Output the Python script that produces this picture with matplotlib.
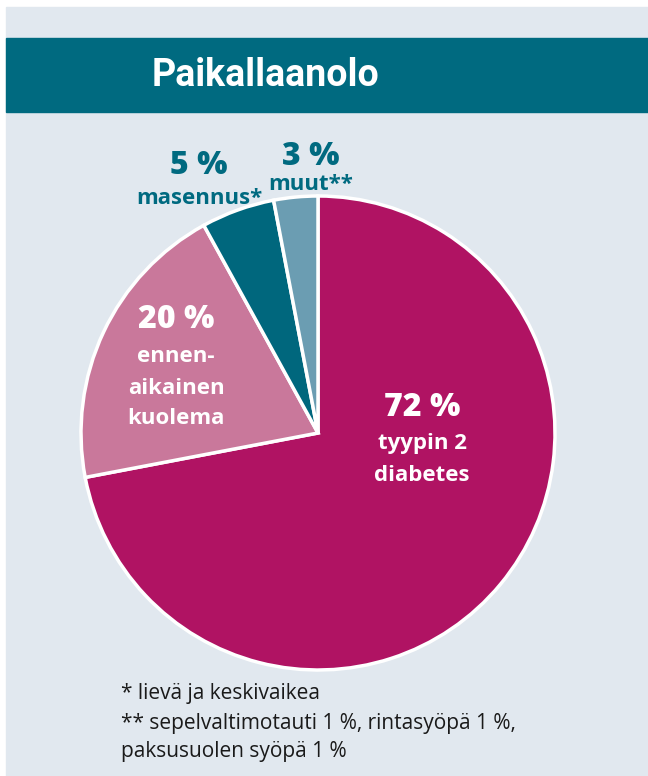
import matplotlib
matplotlib.use('Agg')
import matplotlib.pyplot as plt
from matplotlib.patches import Rectangle

# Data
shares = [72, 20, 5, 3]
colors = ['#b01363', '#c9789b', '#00677d', '#6b9db2']
title = 'Paikallaanolo'
footnotes = ['* lievä ja keskivaikea',
             '** sepelvaltimotauti 1 %, rintasyöpä 1 %,',
             'paksusuolen syöpä 1 %']

W, H = 648, 776
fig = plt.figure(figsize=(W / 100, H / 100), dpi=100)
fig.patch.set_facecolor('white')

def px(x, y):
    return x / W, 1 - y / H

# background panel and header band
fig.patches.append(Rectangle(px(6, 776), (W - 6) / W, (776 - 7) / H,
                             transform=fig.transFigure, color='#e1e8ef', zorder=-2))
fig.patches.append(Rectangle(px(6, 112), (W - 6) / W, 74 / H,
                             transform=fig.transFigure, color='#006a80', zorder=-1))
fig.text(*px(266, 75), title, color='white', fontsize=27, fontweight='bold',
         family='Roboto', ha='center', va='center')

# pie
cx, cy, r = 318, 433, 237
ax = fig.add_axes([(cx - r) / W, 1 - (cy + r) / H, 2 * r / W, 2 * r / H])
ax.set_zorder(1)
ax.pie(shares, colors=colors, startangle=90, counterclock=False, radius=1,
       wedgeprops=dict(edgecolor='white', linewidth=2.5))
ax.set_xlim(-1.0, 1.0)
ax.set_ylim(-1.0, 1.0)
ax.set_aspect('equal')
ax.axis('off')

big = dict(fontsize=23, fontweight='heavy', family='Open Sans', ha='center', va='center', zorder=5)
small = dict(fontsize=16, fontweight='bold', family='Open Sans', ha='center', va='center', zorder=5)
teal = '#006a80'

fig.text(*px(422, 408), f'{shares[0]} %', color='white', **big)
fig.text(*px(422, 443), 'tyypin 2', color='white', **small)
fig.text(*px(422, 475), 'diabetes', color='white', **small)

fig.text(*px(176, 320), f'{shares[1]} %', color='white', **big)
fig.text(*px(176, 357), 'ennen-', color='white', **small)
fig.text(*px(176, 388), 'aikainen', color='white', **small)
fig.text(*px(176, 418), 'kuolema', color='white', **small)

fig.text(*px(199, 166), f'{shares[2]} %', color=teal, **big)
fig.text(*px(199, 198), 'masennus*', color=teal, **small)

fig.text(*px(311, 157), f'{shares[3]} %', color=teal, **big)
fig.text(*px(311, 184), 'muut**', color=teal, **small)

for i, line in enumerate(footnotes):
    fig.text(*px(121, 694 + i * 29), line, color='#1a1a1a', fontsize=15,
             family='Open Sans', ha='left', va='center')

fig.savefig('out.png', dpi=100)
